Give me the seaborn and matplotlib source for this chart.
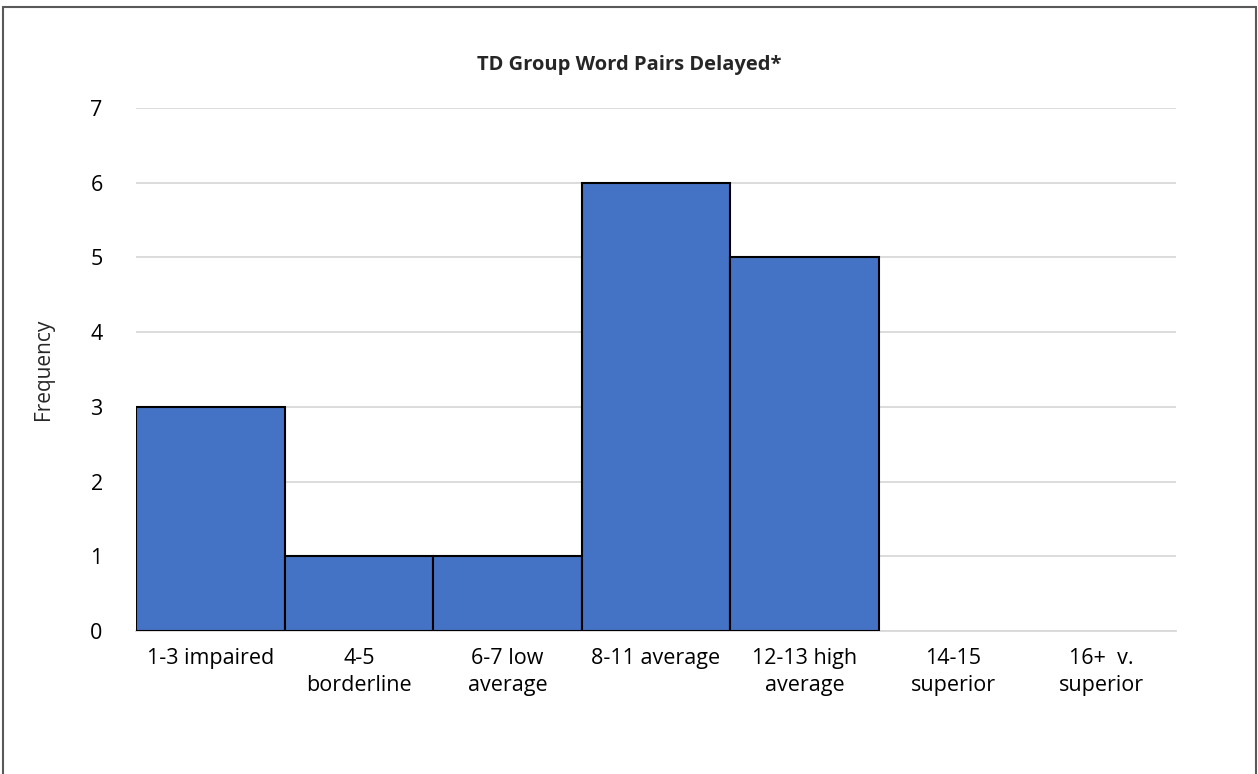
import pandas as pd
import matplotlib.pyplot as plt
import seaborn as sns
from matplotlib.lines import Line2D

categories = ['1-3 impaired', '4-5\nborderline', '6-7 low\naverage', '8-11 average',
              '12-13 high\naverage', '14-15\nsuperior', '16+  v.\nsuperior']
frequency = [3, 1, 1, 6, 5, 0, 0]

df = pd.DataFrame({'category': categories, 'frequency': frequency})

sns.set_style('white')
plt.rcParams['font.family'] = ['Open Sans', 'DejaVu Sans']

fig = plt.figure(figsize=(12.58, 7.74), dpi=100)
ax = fig.add_axes([136 / 1258, 1 - 631 / 774, 1040 / 1258, 523 / 774])

sns.barplot(data=df, x='category', y='frequency', color='#4472C4', width=1.0,
            edgecolor='black', linewidth=1.5, saturation=1, ax=ax, zorder=3)
# empty bins show no outline
for patch in ax.patches:
    if patch.get_height() == 0:
        patch.set_linewidth(0)

ax.set_ylim(0, 7)
ax.set_xlim(-0.5, len(categories) - 0.5)
ax.set_yticks(range(0, 8))
ax.yaxis.grid(True, color='#D9D9D9', linewidth=1.3, zorder=0)
ax.set_axisbelow(True)
for side in ['top', 'right', 'left']:
    ax.spines[side].set_visible(False)
ax.spines['bottom'].set_color('#D9D9D9')
ax.spines['bottom'].set_linewidth(1.3)
ax.tick_params(axis='y', length=0, labelsize=15.5, colors='black', pad=24)
ax.tick_params(axis='x', length=0, labelsize=15.5, colors='black', pad=12)
for lbl in ax.get_xticklabels():
    lbl.set_linespacing(1.4)
ax.set_xlabel('')
ax.set_ylabel('Frequency', fontsize=15, labelpad=26)

fig.text(0.5, 1 - 65 / 774, 'TD Group Word Pairs Delayed*', ha='center', va='center',
         fontsize=14.5, fontweight='bold')

# outer chart border
for xs, ys in [([3 / 1258, 3 / 1258], [0, 1 - 7 / 774]),
               ([3 / 1258, 1256 / 1258], [1 - 7 / 774, 1 - 7 / 774]),
               ([1256 / 1258, 1256 / 1258], [0, 1 - 7 / 774])]:
    fig.add_artist(Line2D(xs, ys, color='#595959', linewidth=1.5, transform=fig.transFigure))

fig.savefig('out.png', dpi=100)
